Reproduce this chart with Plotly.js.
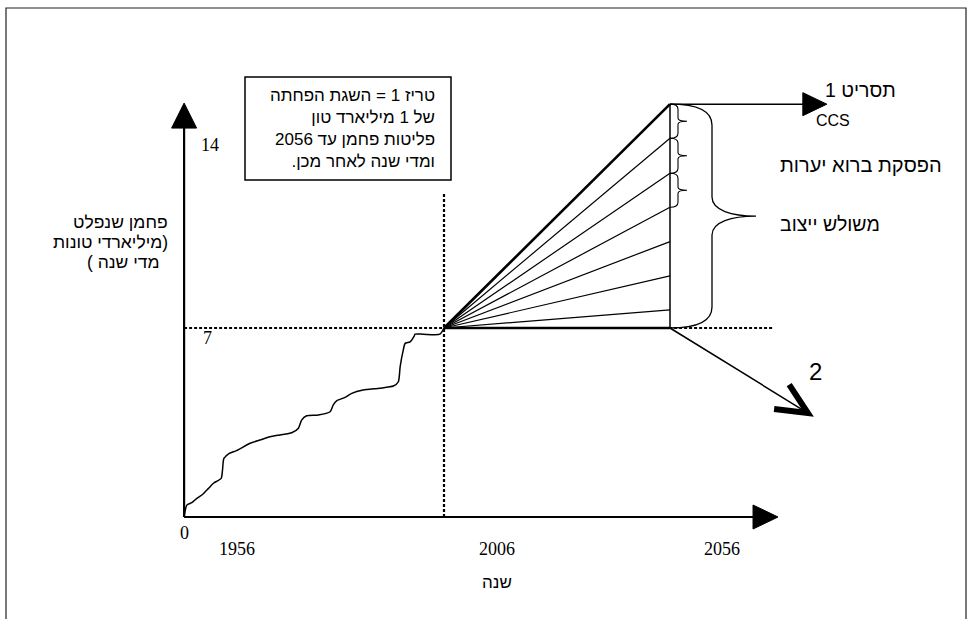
<!DOCTYPE html>
<html>
<head>
<meta charset="utf-8">
<script src="https://cdn.plot.ly/plotly-3.0.1.min.js"></script>
<style>html,body{margin:0;padding:0;background:#fff;}#chart{width:971px;height:619px;}</style>
</head>
<body>
<div id="chart"></div>
<script>
// ---------------- data ----------------
const historyYears = [1948.5,1949.1,1950.2,1951.3,1952.7,1953.9,1955.0,1956.7,1957.0,1957.3,1958.5,1960.1,1963.1,1965.3,1967.5,1969.7,1972.3,1973.8,1974.5,1975.6,1978.2,1980.8,1981.5,1982.3,1984.1,1985.6,1988.1,1991.8,1994.8,1995.9,1996.3,1997.0,1997.4,1998.5,1999.4,1999.6,2001.4,2005.1,2006];
const historyValues = [0,0.44,0.53,0.69,0.85,1.06,1.25,1.43,1.74,2.17,2.36,2.46,2.73,2.85,2.97,3.04,3.12,3.29,3.59,3.75,3.78,3.90,4.15,4.31,4.43,4.58,4.70,4.77,4.85,5.01,5.57,6.19,6.43,6.49,6.70,6.77,6.77,6.77,7.0];
const fanStartYear = 2006;
const fanEndYear = 2056;
const fanStartValue = 7;
const fanEndValues = [7.0,7.67,8.93,10.20,11.47,12.73,14.03,15.29];
const axisStartYear = 1948.5;
const xAxisTipYear = 2079.9;
const yAxisTipValue = 15.33;
const levelLineEndYear = 2078.6;
const yearLineTopValue = 12.04;
const ccsArrowTipYear = 2090.7;
const scenario2TipYear = 2086.5;
const scenario2TipValue = 3.85;
const xTickLabels = ["0","1956","2006","2056"];
const yTickLabels = ["14","7"];
const boxLines = ["טריז 1 = השגת הפחתה","של 1 מיליארד טון","פליטות פחמן עד 2056","ומדי שנה לאחר מכן."];
const yTitleLines = ["פחמן שנפלט","(מיליארדי טונות","מדי שנה )"];
const xTitle = "שנה";
const scenario1Label = "תסריט 1";
const ccsLabel = "CCS";
const deforestLabel = "הפסקת ברוא יערות";
const triangleLabel = "משולש ייצוב";
const scenario2Label = "2";

// ---------------- geometry helpers ----------------
const W = 971, H = 619;
const PX_PER_YEAR = 4.52, REF_YEAR = 2006, REF_PX = 444;
const PX_PER_UNIT = 27, ZERO_PY = 517;
const xRange = [REF_YEAR - REF_PX / PX_PER_YEAR, REF_YEAR + (W - REF_PX) / PX_PER_YEAR];
const yRange = [(ZERO_PY - H) / PX_PER_UNIT, ZERO_PY / PX_PER_UNIT];
const ox = p => p / PX_PER_YEAR;
const oy = p => -p / PX_PER_UNIT;
const pt = (X, Y, sx, sy) => (X + ox(sx)).toFixed(4) + ',' + (Y + oy(sy)).toFixed(4);
const toScreen = (x, y) => [REF_PX + (x - REF_YEAR) * PX_PER_YEAR, ZERO_PY - y * PX_PER_UNIT];

function triPath(tx, ty, angDeg, len, half) {
  const a = angDeg * Math.PI / 180, cx = Math.cos(a), cy = Math.sin(a);
  const bx = -len * cx, by = -len * cy;
  const px = -cy, py = cx;
  const c = (r, u) => (tx + r / PX_PER_YEAR).toFixed(4) + ',' + (ty + u / PX_PER_UNIT).toFixed(4);
  return 'M' + c(0, 0) + ' L' + c(bx + half * px, by + half * py) + ' L' + c(bx - half * px, by - half * py) + ' Z';
}
function chevronPath(tx, ty, angDeg, len, spread) {
  const back = angDeg + 180;
  const c = (r, u) => (tx + r / PX_PER_YEAR).toFixed(4) + ',' + (ty + u / PX_PER_UNIT).toFixed(4);
  const arm = d => { const a = d * Math.PI / 180; return c(len * Math.cos(a), len * Math.sin(a)); };
  return 'M' + arm(back - spread) + ' L' + c(0, 0) + ' L' + arm(back + spread);
}
function bracePath(x, yTop, yBot, body, tip, r, tipHalf) {
  const ym = (yTop + yBot) / 2;
  const k = body + (tip - body) * 0.45;
  return 'M' + pt(x, yTop, 0, 0) +
    ' C' + pt(x, yTop, body * 0.7, 0) + ' ' + pt(x, yTop, body, r * 0.35) + ' ' + pt(x, yTop, body, r) +
    ' L' + pt(x, ym, body, -tipHalf) +
    ' C' + pt(x, ym, body, -tipHalf * 0.3) + ' ' + pt(x, ym, k, 0) + ' ' + pt(x, ym, tip, 0) +
    ' C' + pt(x, ym, k, 0) + ' ' + pt(x, ym, body, tipHalf * 0.3) + ' ' + pt(x, ym, body, tipHalf) +
    ' L' + pt(x, yBot, body, -r) +
    ' C' + pt(x, yBot, body, -r * 0.35) + ' ' + pt(x, yBot, body * 0.7, 0) + ' ' + pt(x, yBot, 0, 0);
}

// ---------------- traces ----------------
const traces = [];
traces.push({x: historyYears, y: historyValues, mode: 'lines', line: {color: '#000', width: 1.5, shape: 'spline', smoothing: 0.6}, hoverinfo: 'skip'});
const thinX = [], thinY = [], thickX = [], thickY = [];
fanEndValues.forEach((v, i) => {
  const edge = (i === 0 || i === fanEndValues.length - 1);
  (edge ? thickX : thinX).push(fanStartYear, fanEndYear, null);
  (edge ? thickY : thinY).push(fanStartValue, v, null);
});
traces.push({x: thinX, y: thinY, mode: 'lines', line: {color: '#000', width: 1.2}, hoverinfo: 'skip'});
traces.push({x: thickX, y: thickY, mode: 'lines', line: {color: '#000', width: 2.6}, hoverinfo: 'skip'});

const topVal = Math.max(...fanEndValues);
const botVal = Math.min(...fanEndValues);

// ---------------- shapes ----------------
const shapes = [];
const L = (x0, y0, x1, y1, w, dash) => ({type: 'line', xref: 'x', yref: 'y', x0, y0, x1, y1, line: {color: '#000', width: w, dash: dash || 'solid'}, layer: 'above'});
const F = (path) => ({type: 'path', xref: 'x', yref: 'y', path, fillcolor: '#000', line: {color: '#000', width: 1}, layer: 'above'});
shapes.push({type: 'rect', xref: 'paper', yref: 'paper', x0: 6 / W, x1: 966 / W, y0: -0.1, y1: 1 - 8 / H, line: {color: '#222', width: 1.2}});
shapes.push({type: 'rect', xref: 'paper', yref: 'paper', x0: 245 / W, x1: 451 / W, y0: 1 - 180 / H, y1: 1 - 77 / H, line: {color: '#000', width: 1.5}});
shapes.push(L(axisStartYear, fanStartValue, levelLineEndYear, fanStartValue, 2.2, '3px,2px'));
shapes.push(L(fanStartYear, 0, fanStartYear, yearLineTopValue, 2.2, '3px,2px'));
shapes.push(L(axisStartYear, 0, axisStartYear, yAxisTipValue + oy(20), 2.2));
shapes.push(F(triPath(axisStartYear, yAxisTipValue, 90, 25, 12.5)));
shapes.push(L(axisStartYear, 0, xAxisTipYear + ox(-20), 0, 2.2));
shapes.push(F(triPath(xAxisTipYear, 0, 0, 25, 12)));
shapes.push(L(fanEndYear, botVal, fanEndYear, topVal, 1.5));
shapes.push(L(fanEndYear, topVal, ccsArrowTipYear + ox(-20), topVal, 1.5));
shapes.push(F(triPath(ccsArrowTipYear, topVal, 0, 24, 11.5)));
shapes.push(L(fanEndYear, botVal, scenario2TipYear, scenario2TipValue, 1.5));
(function () {
  const a = toScreen(fanEndYear, botVal), b = toScreen(scenario2TipYear, scenario2TipValue);
  const ang = Math.atan2(-(b[1] - a[1]), b[0] - a[0]) * 180 / Math.PI;
  shapes.push({type: 'path', xref: 'x', yref: 'y', path: chevronPath(scenario2TipYear, scenario2TipValue, ang, 34, 25), line: {color: '#000', width: 6}, layer: 'above'});
})();
shapes.push({type: 'path', xref: 'x', yref: 'y', path: bracePath(fanEndYear, topVal, botVal, 42, 86, 21, 19), line: {color: '#000', width: 1.3}, layer: 'above'});
const sorted = fanEndValues.slice().sort((p, q) => q - p);
for (let i = 0; i < 3; i++) {
  shapes.push({type: 'path', xref: 'x', yref: 'y', path: bracePath(fanEndYear, sorted[i], sorted[i + 1], 8, 17, 5, 3), line: {color: '#000', width: 1.1}, layer: 'above'});
}

// ---------------- text ----------------
const heb = 'Liberation Sans, Arial, DejaVu Sans, sans-serif';
const ser = 'Liberation Serif, Times New Roman, serif';
const RLM = '\u200F';
const rtl = t => RLM + t + RLM;
const ann = [];
const A = (text, px, py, xanchor, size, family, extra) => ann.push(Object.assign({text, xref: 'paper', yref: 'paper', x: px / W, y: 1 - py / H, xanchor, yanchor: 'middle', showarrow: false, font: {family, size, color: '#000'}}, extra || {}));

const xTickPx = [[184.5, 533], [237, 549], [497, 549], [722, 549]];
xTickLabels.forEach((t, i) => A(t, xTickPx[i][0], xTickPx[i][1], 'center', 18, ser));
const yTickPx = [[210, 145], [207, 338]];
yTickLabels.forEach((t, i) => A(t, yTickPx[i][0], yTickPx[i][1], 'center', 18, ser));

A(boxLines.map(rtl).join('<br>'), 437, 128.5, 'right', 17, heb, {align: 'right'});

const yTitleRight = [170, 170, 162];
yTitleLines.forEach((t, i) => A(rtl(t), yTitleRight[i], 222 + i * 19.8, 'right', 17.5, heb));

A(rtl(xTitle), 497, 582, 'center', 17, heb);
A(rtl(scenario1Label), 898, 90, 'right', 19.5, heb);
A(ccsLabel, 833, 121, 'center', 16, heb);
A(rtl(deforestLabel), 778, 165, 'left', 20, heb);
A(rtl(triangleLabel), 778, 224, 'left', 19.5, heb);
A(scenario2Label, 815, 371, 'center', 24, heb);

const layout = {
  width: W, height: H,
  margin: {l: 0, r: 0, t: 0, b: 0, pad: 0},
  paper_bgcolor: '#fff', plot_bgcolor: '#fff',
  showlegend: false,
  xaxis: {range: xRange, visible: false, fixedrange: true},
  yaxis: {range: yRange, visible: false, fixedrange: true},
  shapes, annotations: ann
};
Plotly.newPlot('chart', traces, layout, {staticPlot: true, displayModeBar: false});
</script>
</body>
</html>
